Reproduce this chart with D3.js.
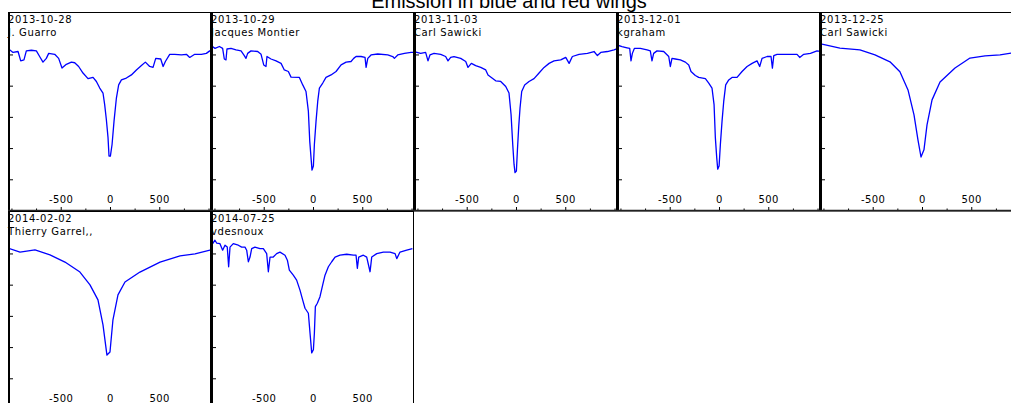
<!DOCTYPE html>
<html><head><meta charset="utf-8">
<script src="https://cdn.jsdelivr.net/npm/d3@7"></script>
<style>html,body{margin:0;padding:0;background:#fff;overflow:hidden}</style>
</head><body>
<svg id="chart" width="1011" height="403"></svg>
<script>
// ---- data (velocity km/s, relative flux) ----
const titleText = "Emission in blue and red wings";
const dates = ["2013-10-28","2013-10-29","2013-11-03","2013-12-01","2013-12-25","2014-02-02","2014-07-25"];
const observers = ["J. Guarro","Jacques Montier","Carl Sawicki","kgraham","Carl Sawicki","Thierry Garrel,,","vdesnoux"];
const xTicks = [-1000,-750,-500,-250,0,250,500,750,1000];
const xLabels = [-500,0,500];
const yTicks = [1.0,0.9,0.8,0.7,0.6];

const spec1 = [[-1040,1.021],[-989,1.008],[-938,1.011],[-911,0.981],[-878,0.984],[-854,1.013],[-803,1.015],[-752,1.013],[-719,0.995],[-685,0.977],[-651,0.989],[-627,1.005],[-566,1.002],[-526,0.989],[-492,0.958],[-448,0.970],[-397,0.977],[-363,0.975],[-323,0.963],[-279,0.942],[-228,0.924],[-177,0.928],[-143,0.915],[-109,0.894],[-76,0.878],[-59,0.841],[-42,0.793],[-25,0.735],[-15,0.676],[-1,0.676],[16,0.713],[36,0.788],[60,0.862],[83,0.904],[111,0.920],[161,0.926],[212,0.936],[263,0.952],[314,0.966],[354,0.977],[398,0.963],[432,0.960],[459,0.989],[510,0.987],[534,0.963],[557,0.979],[601,1.002],[652,1.002],[720,1.000],[770,1.002],[804,0.992],[855,1.002],[923,1.002],[973,1.005],[1007,1.013],[1031,1.011]];
const spec2 = [[-1040,1.030],[-999,1.021],[-955,1.027],[-922,1.021],[-905,0.987],[-888,0.984],[-878,1.019],[-837,1.021],[-786,1.016],[-735,1.013],[-702,0.998],[-685,0.989],[-668,1.005],[-634,1.013],[-566,1.011],[-532,1.002],[-505,0.968],[-482,0.963],[-472,0.995],[-431,0.987],[-380,0.981],[-329,0.973],[-296,0.952],[-255,0.947],[-228,0.929],[-143,0.928],[-109,0.904],[-76,0.883],[-52,0.820],[-38,0.724],[-25,0.671],[-15,0.631],[-1,0.644],[9,0.713],[26,0.788],[43,0.851],[60,0.894],[94,0.910],[127,0.928],[178,0.936],[229,0.947],[280,0.968],[331,0.977],[381,0.979],[408,0.989],[432,0.995],[483,0.995],[523,0.992],[534,0.960],[551,0.989],[584,1.000],[652,1.003],[754,1.000],[804,0.995],[821,0.989],[855,1.000],[923,1.005],[990,1.008],[1031,1.008]];
const spec3 = [[-1040,1.011],[-972,1.005],[-922,1.008],[-898,0.981],[-878,1.000],[-837,1.005],[-769,1.002],[-719,0.995],[-695,0.981],[-668,0.992],[-634,0.995],[-566,0.989],[-515,0.979],[-492,0.960],[-458,0.973],[-414,0.966],[-363,0.960],[-312,0.952],[-289,0.936],[-255,0.928],[-211,0.917],[-160,0.915],[-109,0.899],[-76,0.878],[-55,0.809],[-38,0.713],[-25,0.650],[-15,0.623],[-1,0.628],[9,0.692],[23,0.772],[36,0.830],[53,0.883],[83,0.904],[127,0.915],[178,0.924],[229,0.942],[280,0.960],[331,0.973],[381,0.981],[449,0.984],[500,0.992],[534,0.973],[567,0.995],[635,1.002],[720,1.005],[787,1.011],[821,0.998],[855,1.008],[923,1.011],[990,1.016],[1031,1.021]];
const spec4 = [[-1040,1.032],[-989,1.027],[-938,1.023],[-911,1.021],[-898,0.981],[-884,1.005],[-864,1.021],[-803,1.021],[-735,1.016],[-702,1.013],[-685,0.981],[-668,1.005],[-634,1.013],[-566,1.011],[-515,0.995],[-499,0.963],[-482,0.989],[-448,0.987],[-397,0.984],[-346,0.977],[-312,0.968],[-289,0.947],[-245,0.934],[-211,0.928],[-143,0.924],[-109,0.910],[-76,0.894],[-55,0.841],[-42,0.735],[-28,0.671],[-18,0.634],[-4,0.644],[9,0.713],[26,0.788],[43,0.851],[63,0.904],[94,0.920],[127,0.928],[178,0.928],[229,0.947],[280,0.963],[331,0.973],[381,0.981],[408,0.963],[432,0.989],[483,0.995],[523,0.995],[537,0.958],[551,0.998],[584,1.002],[686,1.002],[787,1.002],[814,0.992],[855,1.002],[923,1.005],[990,1.013],[1031,1.011]];
const spec5 = [[-1020,1.035],[-838,1.022],[-635,1.016],[-482,1.000],[-330,0.978],[-229,0.946],[-147,0.888],[-86,0.808],[-46,0.728],[-15,0.673],[15,0.696],[46,0.776],[97,0.856],[178,0.913],[330,0.958],[482,0.990],[635,0.997],[787,1.000],[899,1.006],[1020,1.010]];
const spec6 = [[-1040,1.019],[-918,1.006],[-766,1.013],[-614,0.997],[-462,0.974],[-310,0.942],[-208,0.901],[-127,0.853],[-76,0.773],[-36,0.676],[-5,0.686],[25,0.789],[76,0.869],[147,0.910],[299,0.942],[503,0.974],[706,0.994],[858,1.000],[1020,1.013]];
const spec7 = [[-1023,1.033],[-1000,1.044],[-983,1.035],[-949,1.033],[-922,1.012],[-898,1.028],[-875,1.022],[-861,0.959],[-847,1.022],[-814,1.033],[-763,1.028],[-729,1.022],[-695,1.022],[-678,1.012],[-661,0.975],[-644,0.990],[-627,1.017],[-594,1.022],[-543,1.017],[-509,1.017],[-475,1.001],[-458,0.943],[-441,0.990],[-408,0.990],[-374,1.001],[-340,1.006],[-289,0.996],[-265,0.980],[-245,0.948],[-205,0.932],[-171,0.916],[-137,0.884],[-110,0.853],[-86,0.826],[-52,0.810],[-35,0.746],[-18,0.683],[-1,0.693],[9,0.746],[19,0.831],[39,0.842],[66,0.863],[93,0.900],[117,0.932],[151,0.959],[185,0.975],[219,0.990],[269,0.996],[337,0.999],[405,0.996],[432,0.996],[445,0.954],[459,0.990],[506,0.996],[540,0.990],[574,0.943],[591,0.990],[642,1.001],[709,1.006],[777,1.006],[828,1.001],[845,0.985],[878,1.006],[946,1.012],[1004,1.017]];
const spectra = [spec1,spec2,spec3,spec4,spec5,spec6,spec7];

// ---- layout ----
const W = 1011, H = 403;
const panelW = 203, panelH = 199, left0 = 8, top0 = 12, nCols = 5;
const svg = d3.select("#chart");
const x = d3.scaleLinear().domain([-1040, 1020]).range([0, panelW]);
const y = d3.scaleLinear().domain([0.5, 1.1376]).range([panelH, 0]);
const fontF = "'DejaVu Sans', Verdana, sans-serif";

svg.append("text").attr("x", 509).attr("y", 8).attr("text-anchor","middle")
  .attr("font-family","'Liberation Sans', Arial, sans-serif").attr("font-size", 20)
  .attr("fill","#000").text(titleText);

const defs = svg.append("defs");
defs.append("clipPath").attr("id","pclip").append("rect")
  .attr("x",0).attr("y",0).attr("width",panelW).attr("height",panelH);

spectra.forEach((spec, i) => {
  const col = i % nCols, row = Math.floor(i / nCols);
  const g = svg.append("g").attr("transform", `translate(${left0 + col*panelW},${top0 + row*panelH})`);
  const line = d3.line().x(d => x(d[0])).y(d => y(d[1]));
  g.append("path").datum(spec).attr("d", line).attr("clip-path","url(#pclip)")
    .attr("fill","none").attr("stroke","#0000ff").attr("stroke-width",1.3)
    .attr("stroke-linejoin","round");
  g.append("text").attr("x",0).attr("y",10.5).attr("font-family",fontF).attr("font-size",10)
    .attr("letter-spacing","0.6px").attr("fill","#000").text(dates[i]);
  g.append("text").attr("x",0).attr("y",23.5).attr("font-family",fontF).attr("font-size",10)
    .attr("letter-spacing","0.6px").attr("fill","#000").text(observers[i]);
  g.selectAll(".xt").data(xTicks).enter().append("line")
    .attr("x1", d => x(d)).attr("x2", d => x(d))
    .attr("y1", panelH).attr("y2", d => panelH - (xLabels.includes(d) ? 4 : 2.5))
    .attr("stroke","#000").attr("stroke-width",1);
  g.selectAll(".xl").data(xLabels).enter().append("text")
    .attr("x", d => x(d)).attr("y", panelH - 8).attr("text-anchor","middle")
    .attr("font-family",fontF).attr("font-size",10).attr("letter-spacing","0.4px")
    .attr("fill","#000").text(d => d);
  g.selectAll(".yt").data(yTicks).enter().append("line")
    .attr("x1",0).attr("x2",5).attr("y1", d => y(d)).attr("y2", d => y(d))
    .attr("stroke","#000").attr("stroke-width",1);
  g.append("rect").attr("x",0.5).attr("y",0.5).attr("width",panelW-1).attr("height",panelH-0.5)
    .attr("fill","none").attr("stroke","#000").attr("stroke-width",1);
  g.append("line").attr("x1",1).attr("x2",1).attr("y1",0).attr("y2",panelH)
    .attr("stroke","#000").attr("stroke-width",2);
  g.append("line").attr("x1",0).attr("x2",panelW).attr("y1",panelH-0.5).attr("y2",panelH-0.5)
    .attr("stroke","#222").attr("stroke-width",1.6);
});
</script>
</body></html>
